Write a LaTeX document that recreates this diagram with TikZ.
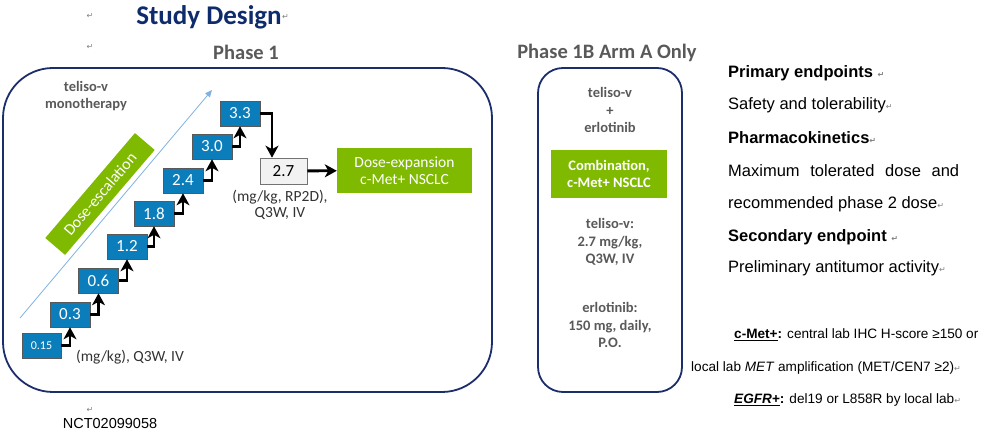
\documentclass[tikz,border=0pt]{standalone}
\usepackage{fontspec}
\setmainfont{Carlito}
\newfontfamily\arialfont{Liberation Sans}
\newfontfamily\symfont{DejaVu Sans}
\usetikzlibrary{arrows.meta, calc, positioning}
\definecolor{titlenavy}{HTML}{0E2B6B}
\definecolor{framenavy}{HTML}{1C2D6B}
\definecolor{txtgray}{HTML}{595959}
\definecolor{dosblue}{HTML}{0B7DBA}
\definecolor{armgreen}{HTML}{7FBA00}
\definecolor{skyline}{HTML}{7FB2E0}
\newcommand{\fs}[1]{\fontsize{#1}{#1}\selectfont}
\newcommand{\pmark}{{\color{gray}\symfont\fontsize{8}{8}\selectfont ↵}}

\begin{document}
\begin{tikzpicture}[
    x=1pt, y=-1pt,
    >={Stealth[length=12pt, width=13pt, inset=3.5pt]},
    every node/.style={inner sep=0pt},
  ]
  \useasboundingbox (0,0) rectangle (983,435);

  % --- Styles ---
  \tikzset{
    dosebox/.style={fill=dosblue, draw=black!65, line width=0.6pt,
                    minimum width=40pt, minimum height=25pt,
                    text=white, font=\fs{17}},
    greenbox/.style={fill=armgreen, text=white, align=center},
    grayinfo/.style={text=txtgray, font=\bfseries\fs{14.5}, align=center},
    stepup/.style={->, line width=2.8pt, black},
    frame/.style={draw=framenavy, line width=1.8pt},
    endp/.style={anchor=west, font=\arialfont\fs{16.5}},
    crit/.style={anchor=west, font=\arialfont\fs{13.6}},
  }

  % --- Heading ---
  \node[font=\bfseries\fs{27}, text=titlenavy] (title) at (209,17) {Study Design};
  \node[anchor=west] (titlemark) at (title.east) {\pmark};
  \node (markA) at (90,16) {\pmark};
  \node (markB) at (90,47) {\pmark};
  \node[font=\bfseries\fs{20.5}, text=txtgray] (ph1) at (246,52) {Phase 1};
  \node[font=\bfseries\fs{20.5}, text=txtgray] (ph1b) at (607,53) {Phase 1B Arm A Only};

  % --- Phase 1 frame ---
  \draw[frame, rounded corners=50pt] (3,68) rectangle (492,392);

  \node[grayinfo] (mono) at (86,96) {teliso-v\\[2pt]monotherapy};

  % escalation direction
  \coordinate (escfrom) at (20,318);
  \coordinate (escto) at (212,90);
  \draw[-{Triangle[length=7pt, width=6pt]}, skyline, line width=0.8pt] (escfrom) -- (escto);
  \node[greenbox, rotate=49.5, minimum width=138pt, minimum height=26pt,
        font=\fs{16}] (escal) at (100,194) {Dose-escalation};

  % --- Dose levels (mg/kg) ---
  \node[dosebox, minimum width=39pt, font=\fs{12}] (s015) at (41.5,345.5) {0.15};
  \node[dosebox] (s03) at (70,314.5)  {0.3};
  \node[dosebox] (s06) at (98.5,280.5) {0.6};
  \node[dosebox] (s12) at (127,246.5) {1.2};
  \node[dosebox] (s18) at (154,213.5) {1.8};
  \node[dosebox] (s24) at (183,180.5) {2.4};
  \node[dosebox] (s30) at (212,146.5) {3.0};
  \node[dosebox] (s33) at (240,113.5) {3.3};

  \draw[stepup] (s015.east) -| (s03.south);
  \draw[stepup] (s03.east) -| (s06.south);
  \draw[stepup] (s06.east) -| (s12.south);
  \draw[stepup] (s12.east) -| (s18.south);
  \draw[stepup] (s18.east) -| (s24.south);
  \draw[stepup] (s24.east) -| (s30.south);
  \draw[stepup] (s30.east) -| (s33.south);

  \node[text=black!80, font=\fs{15.5}] (unit) at (130,357) {(mg/kg), Q3W, IV};

  % --- RP2D and expansion ---
  \node[fill=black!5, draw=black!55, line width=0.6pt, minimum width=47pt,
        minimum height=26pt, font=\fs{17}] (p27) at (283.5,171) {2.7};
  \node[text=black!80, font=\fs{15.5}, align=center] (rp2d) at (280,205)
    {(mg/kg, RP2D),\\[1pt]Q3W, IV};
  \node[greenbox, minimum width=135pt, minimum height=45pt, font=\fs{15.5}]
    (expand) at (404.5,170.5) {Dose-expansion\\[1pt]c-Met+ NSCLC};

  \draw[stepup] (s33.east) -| ([xshift=-11.5pt]p27.north);
  \draw[stepup] (p27) -- (expand);

  % --- Phase 1B frame ---
  \draw[frame, rounded corners=25pt] (538,68) rectangle (682,392);

  \node[grayinfo] (combo) at (610,110) {teliso-v\\[3pt]+\\[3pt]erlotinib};
  \node[greenbox, minimum width=116pt, minimum height=48pt,
        font=\bfseries\fs{14.5}] (combogreen) at (609,174)
    {Combination,\\[2pt]c-Met+ NSCLC};
  \node[grayinfo] (telisodose) at (610,242) {teliso-v:\\[3pt]2.7 mg/kg,\\[3pt]Q3W, IV};
  \node[grayinfo] (erlodose) at (610,325) {erlotinib:\\[3pt]150 mg, daily,\\[3pt]P.O.};

  % --- Endpoints ---
  \node[endp, font=\arialfont\bfseries\fs{16.5}] (prim) at (728,73) {Primary endpoints \pmark};
  \node[endp] (safety) at (728,105) {Safety and tolerability\pmark};
  \node[endp, font=\arialfont\bfseries\fs{16.5}] (pk) at (728,138) {Pharmacokinetics\pmark};
  \node[endp] (mtd) at (728,171) {\makebox[231pt][s]{Maximum tolerated dose and}};
  \node[endp] (rp2dose) at (728,204) {recommended phase 2 dose\pmark};
  \node[endp, font=\arialfont\bfseries\fs{16.5}] (second) at (728,237) {Secondary endpoint \pmark};
  \node[endp] (antitumor) at (728,268) {Preliminary antitumor activity\pmark};

  % --- Biomarker definitions ---
  \node[crit] (cmet) at (734,335)
    {\textbf{\underline{c-Met+}:} central lab IHC H-score ≥150 or};
  \node[crit] (cmet2) at (691,368)
    {local lab \textit{MET} amplification (MET/CEN7 ≥2)\pmark};
  \node[crit] (egfr) at (734,400)
    {\textbf{\textit{\underline{EGFR+}}:} del19 or L858R by local lab\pmark};

  % --- Trial id ---
  \node (markC) at (90,410) {\pmark};
  \node[font=\arialfont\fs{14.5}] (nct) at (110,424) {NCT02099058};

\end{tikzpicture}
\end{document}
